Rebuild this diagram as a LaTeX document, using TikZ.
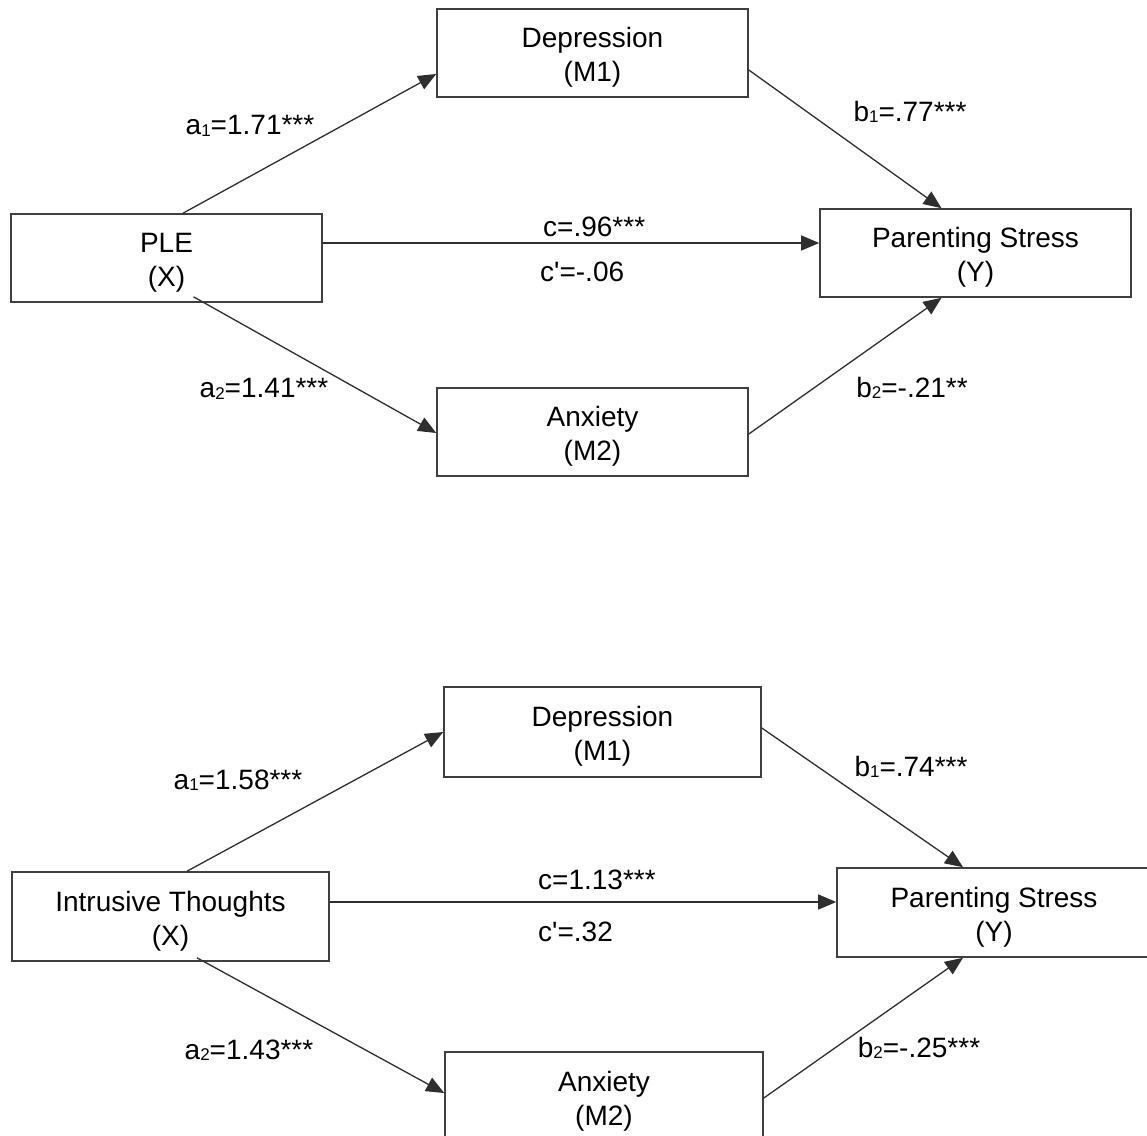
\documentclass[tikz,border=0pt]{standalone}
\usepackage{fontspec}
\setmainfont{Liberation Sans}
\usetikzlibrary{arrows.meta,calc}
\newcommand{\sbs}[1]{\raisebox{-1.5pt}{\fontsize{17}{17}\selectfont #1}}
\newcommand{\twol}[2]{\rule{0pt}{29pt}#1\\#2}
\begin{document}
\begin{tikzpicture}[x=1pt,y=-1pt,
  box/.style={draw=black!75, line width=1.6pt, minimum height=88, inner sep=0,
    align=center, font=\fontsize{28}{34}\selectfont},
  lbl/.style={inner sep=0, font=\fontsize{28}{33}\selectfont},
  arr/.style={draw=black!82, line width=1.3pt, -{Triangle[length=18pt,width=15pt]}}]
\useasboundingbox (0,0) rectangle (1147,1135);
\clip (0,0) rectangle (1147,1135);
\fill[white] (0,0) rectangle (1147,1135);
% ---------- top model ----------
\node[box, minimum width=311, minimum height=88] (d1) at (592.5,53) {\twol{Depression}{(M1)}};
\node[box, minimum width=311] (x1) at (166.5,258) {\twol{PLE}{(X)}};
\node[box, minimum width=311, minimum height=88] (y1) at (975.5,253) {\twol{Parenting Stress}{(Y)}};
\node[box, minimum width=311] (m1) at (592.5,432) {\twol{Anxiety}{(M2)}};
\coordinate (c1) at ($(x1.east)+(0,-15)$);
\draw[arr] ($(x1.north)+(16.5,0)$) -- ($(d1.west)+(0,21)$);
\draw[arr] ($(x1.south)+(27,-6)$) -- ($(m1.west)+(0,1)$);
\draw[arr] ($(d1.east)+(0,17)$) -- ($(y1.north)+(-34,0)$);
\draw[arr] ($(m1.east)+(0,2)$) -- ($(y1.south)+(-34,0)$);
\draw[arr] (c1) -- (c1 -| y1.west);
\node[lbl] (la1) at (250,126) {a\sbs{1}=1.71***};
\node[lbl] (la2) at (264,389) {a\sbs{2}=1.41***};
\node[lbl] (lb1) at (910,112) {b\sbs{1}=.77***};
\node[lbl] (lb2) at (912,388) {b\sbs{2}=-.21**};
\node[lbl, anchor=west] (lc) at (543,227) {c=.96***};
\node[lbl, anchor=west] (lcp) at (540,272) {c\textquotesingle=-.06};
% ---------- bottom model ----------
\node[box, minimum width=317, minimum height=90] (d2) at (602.5,732) {\twol{Depression}{(M1)}};
\node[box, minimum width=317, minimum height=89] (x2) at (170.5,916.5) {\twol{Intrusive Thoughts}{(X)}};
\node[box, minimum width=314, minimum height=89] (y2) at (994,912.5) {\twol{Parenting Stress}{(Y)}};
\node[box, minimum width=318, minimum height=90] (m2) at (604,1097) {\twol{Anxiety}{(M2)}};
\coordinate (c2) at ($(x2.east)+(0,-14.5)$);
\draw[arr] ($(x2.north)+(16.5,0)$) -- ($(d2.west)+(0,0)$);
\draw[arr] ($(x2.south)+(26.5,-4)$) -- ($(m2.west)+(0,-4)$);
\draw[arr] ($(d2.east)+(0,-4)$) -- ($(y2.north)+(-31,0)$);
\draw[arr] ($(m2.east)+(0,1)$) -- ($(y2.south)+(-31,0)$);
\draw[arr] (c2) -- (c2 -| y2.west);
\node[lbl] (la3) at (238,780) {a\sbs{1}=1.58***};
\node[lbl] (la4) at (249,1050) {a\sbs{2}=1.43***};
\node[lbl] (lb3) at (911,767) {b\sbs{1}=.74***};
\node[lbl] (lb4) at (919,1048) {b\sbs{2}=-.25***};
\node[lbl, anchor=west] (lc2) at (538,880) {c=1.13***};
\node[lbl, anchor=west] (lcp2) at (538,932) {c\textquotesingle=.32};
\end{tikzpicture}
\end{document}
